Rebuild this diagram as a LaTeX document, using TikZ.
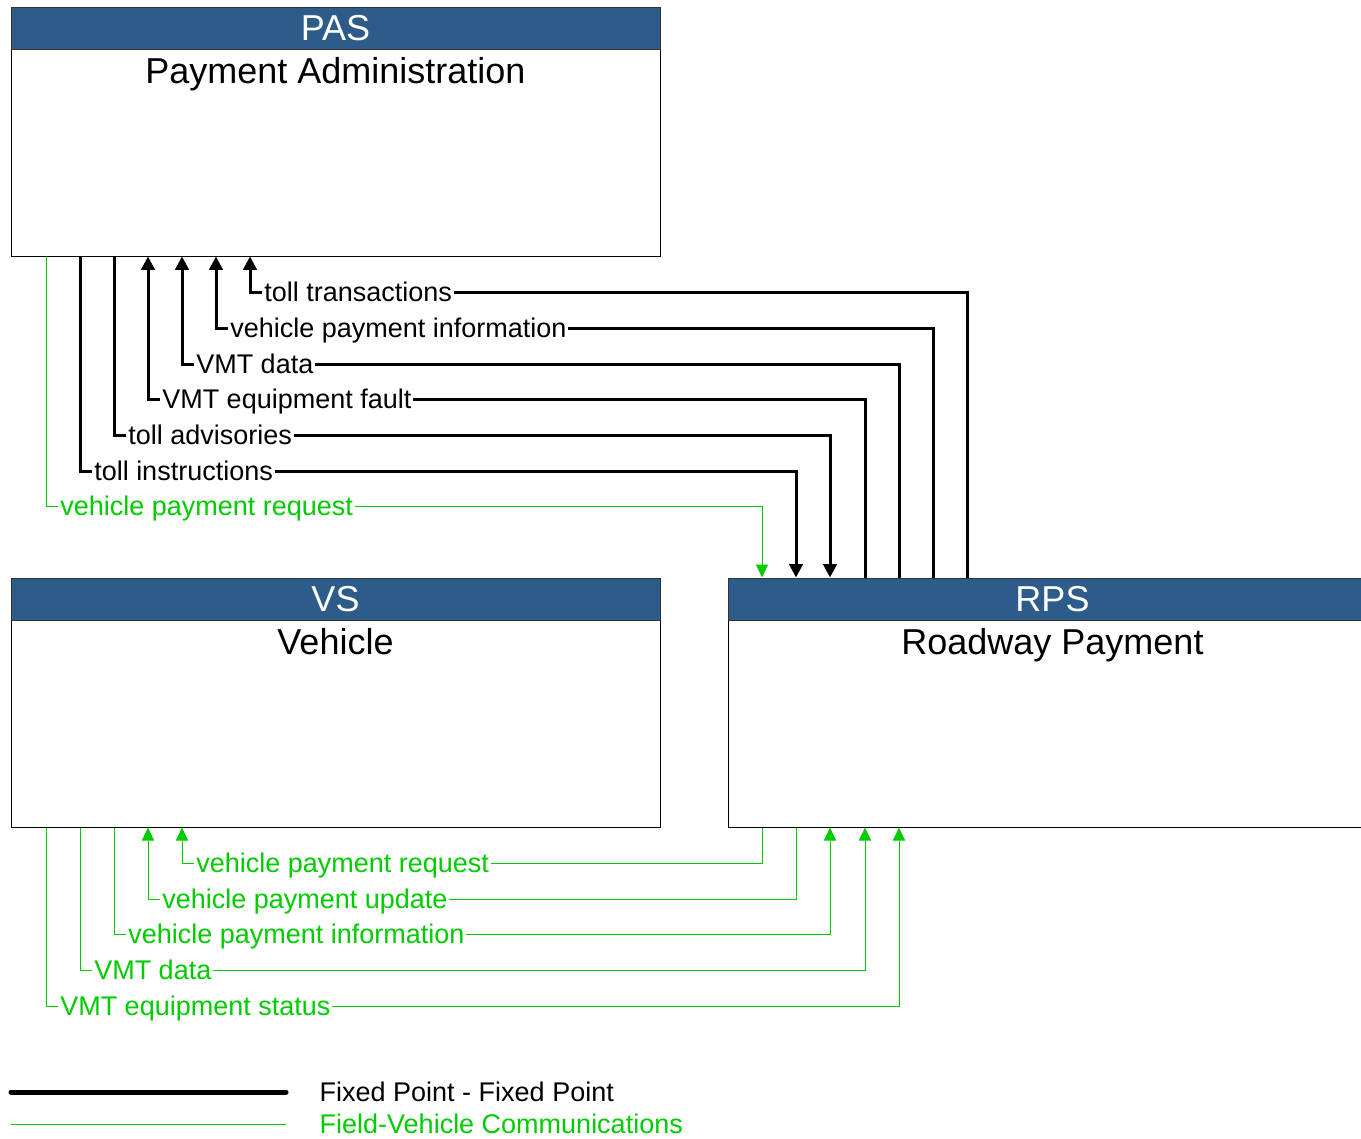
\documentclass[tikz,border=0pt]{standalone}
\usepackage{fontspec}
\setmainfont{Liberation Sans}
\usetikzlibrary{arrows.meta,positioning}
\definecolor{hdrblue}{RGB}{46,92,138}
\definecolor{fvgreen}{RGB}{0,204,0}

\begin{document}
\begin{tikzpicture}[x=0.75pt, y=-0.75pt, every node/.style={font=\fontsize{20.25}{24}\selectfont},
  >={Triangle[width=10pt,length=10pt]},
  sysbox/.style={draw, rectangle, minimum width=486.75pt, minimum height=186.75pt, inner sep=0pt, line width=0.75pt},
  syshead/.style={draw=black!80, fill=hdrblue, text=white, rectangle, minimum width=486.75pt, minimum height=31.5pt, inner sep=0pt, line width=0.75pt, font=\fontsize{27}{32}\selectfont},
  systitle/.style={font=\fontsize{27}{32}\selectfont},
  fp/.style={line width=2.25pt},
  fv/.style={line width=0.75pt, draw=fvgreen, >={Triangle[width=9pt,length=9.75pt]}},
  flab/.style={anchor=west, fill=white, inner xsep=1.5pt, inner ysep=0pt, text height=14.5pt, text depth=0pt},
  fvlab/.style={flab, text=fvgreen}]
\useasboundingbox (0,0) rectangle (1361,1139);

\node[sysbox] (pas) at (335.5,131.5) {};
\node[syshead, anchor=north] (pashd) at (pas.north) {PAS};
\node[systitle, below=2.5pt of pashd] (pasname) {Payment Administration};
\node[sysbox] (vs) at (335.5,702.5) {};
\node[syshead, anchor=north] (vshd) at (vs.north) {VS};
\node[systitle, below=2.5pt of vshd] (vsname) {Vehicle};
\node[sysbox] (rps) at (1052.5,702.5) {};
\node[syshead, anchor=north] (rpshd) at (rps.north) {RPS};
\node[systitle, below=2.5pt of rpshd] (rpsname) {Roadway Payment};

\draw[fp,<-] (250,0 |- pas.south) |- (967,292) -- (967,0 |- rps.north);
\draw[fp,<-] (216,0 |- pas.south) |- (933,328) -- (933,0 |- rps.north);
\draw[fp,<-] (182,0 |- pas.south) |- (899,364) -- (899,0 |- rps.north);
\draw[fp,<-] (148,0 |- pas.south) |- (865,399) -- (865,0 |- rps.north);
\draw[fp,->] (114,0 |- pas.south) |- (830,435) -- (830,0 |- rps.north);
\draw[fp,->] (80,0 |- pas.south) |- (796,471) -- (796,0 |- rps.north);
\draw[fv,->] (46,0 |- pas.south) |- (762,506) -- (762,0 |- rps.north);
\node[flab] (tolltx) at (262,292) {toll transactions};
\node[flab] (vpinfo) at (228,328) {vehicle payment information};
\node[flab] (vmtdata) at (194,364) {VMT data};
\node[flab] (vmtfault) at (160,399) {VMT equipment fault};
\node[flab] (tolladv) at (126,435) {toll advisories};
\node[flab] (tollins) at (92,471) {toll instructions};
\node[fvlab] (vpreq) at (58,506) {vehicle payment request};

\draw[fv,<-] (182,0 |- vs.south) |- (762,863) -- (762,0 |- rps.south);
\draw[fv,<-] (148,0 |- vs.south) |- (796,899) -- (796,0 |- rps.south);
\draw[fv,->] (114,0 |- vs.south) |- (830,934) -- (830,0 |- rps.south);
\draw[fv,->] (80,0 |- vs.south) |- (865,970) -- (865,0 |- rps.south);
\draw[fv,->] (46,0 |- vs.south) |- (899,1006) -- (899,0 |- rps.south);
\node[fvlab] (vpreq2) at (194,863) {vehicle payment request};
\node[fvlab] (vpupd) at (160,899) {vehicle payment update};
\node[fvlab] (vpinfo2) at (126,934) {vehicle payment information};
\node[fvlab] (vmtdata2) at (92,970) {VMT data};
\node[fvlab] (vmtstat) at (58,1006) {VMT equipment status};

\coordinate (fpa) at (11,1092);
\coordinate (fpb) at (286,1092);
\coordinate (fva) at (11,1124);
\coordinate (fvb) at (286,1124);
\draw[line width=3.75pt, line cap=round] (fpa) -- (fpb);
\draw[fv] (fva) -- (fvb);
\node[anchor=west] (fptext) at (315,1092) {Fixed Point - Fixed Point};
\node[anchor=west, text=fvgreen] (fvtext) at (315,1124) {Field-Vehicle Communications};
\end{tikzpicture}
\end{document}
